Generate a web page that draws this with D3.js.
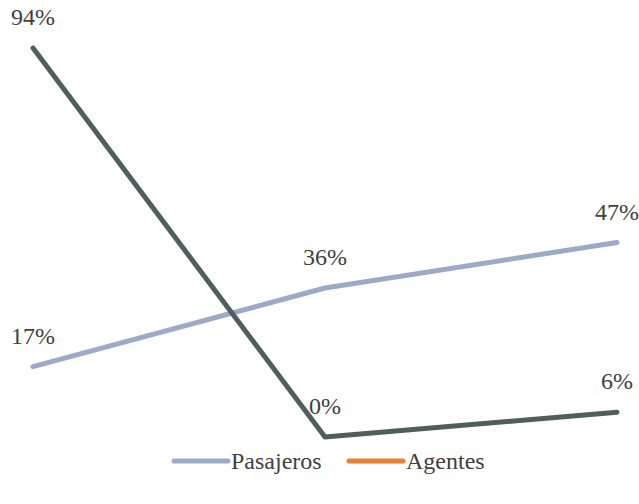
<!DOCTYPE html>
<html>
<head>
<meta charset="utf-8">
<script src="https://cdn.jsdelivr.net/npm/d3@7"></script>
</head>
<body style="margin:0;background:#ffffff">
<svg id="chart" width="639" height="504" style="display:block"></svg>
<script>
// Share of each group per stage (percent)
const stages = ["Etapa 1", "Etapa 2", "Etapa 3"];
const pasajeros = [17, 36, 47];
const agentes = [94, 0, 6];
const seriesNames = ["Pasajeros", "Agentes"];
const lineColors = ["#9babc7", "#4f5e5e"];
const legendColors = ["#9babc7", "#ed7d31"];

const FONT = "Liberation Serif";
const TEXT_COLOR = "#404040";

const svg = d3.select("#chart");

const x = d3.scalePoint().domain(stages).range([33, 617]);
const y = d3.scaleLinear().domain([0, 94]).range([437, 48]);

const series = [pasajeros, agentes];

const line = d3.line()
  .x((d, i) => x(stages[i]))
  .y(d => y(d));

// Lines
svg.selectAll("path.serie")
  .data(series)
  .join("path")
  .attr("class", "serie")
  .attr("d", d => line(d))
  .attr("fill", "none")
  .attr("stroke", (d, i) => lineColors[i])
  .attr("stroke-width", 5)
  .attr("stroke-linecap", "round")
  .attr("stroke-linejoin", "round");

// Value labels above each point
series.forEach((vals, si) => {
  svg.selectAll("text.lbl" + si)
    .data(vals)
    .join("text")
    .attr("class", "lbl" + si)
    .attr("x", (d, i) => x(stages[i]))
    .attr("y", d => y(d) - 23)
    .attr("text-anchor", "middle")
    .attr("font-family", FONT)
    .style("font-family", FONT)
    .attr("font-size", 24)
    .attr("fill", TEXT_COLOR)
    .text(d => d + "%");
});

// Legend
const legendItems = [
  { name: seriesNames[0], color: legendColors[0], x0: 172 },
  { name: seriesNames[1], color: legendColors[1], x0: 347 }
];
const ly = 461;
const lg = svg.append("g").attr("class", "legend");
legendItems.forEach(it => {
  lg.append("line")
    .attr("x1", it.x0 + 2).attr("x2", it.x0 + 56)
    .attr("y1", ly).attr("y2", ly)
    .attr("stroke", it.color)
    .attr("stroke-width", 5)
    .attr("stroke-linecap", "round");
  lg.append("text")
    .attr("x", it.x0 + 59)
    .attr("y", ly + 8)
    .attr("font-family", FONT)
    .style("font-family", FONT)
    .attr("font-size", 24)
    .attr("fill", TEXT_COLOR)
    .text(it.name);
});
</script>
</body>
</html>
